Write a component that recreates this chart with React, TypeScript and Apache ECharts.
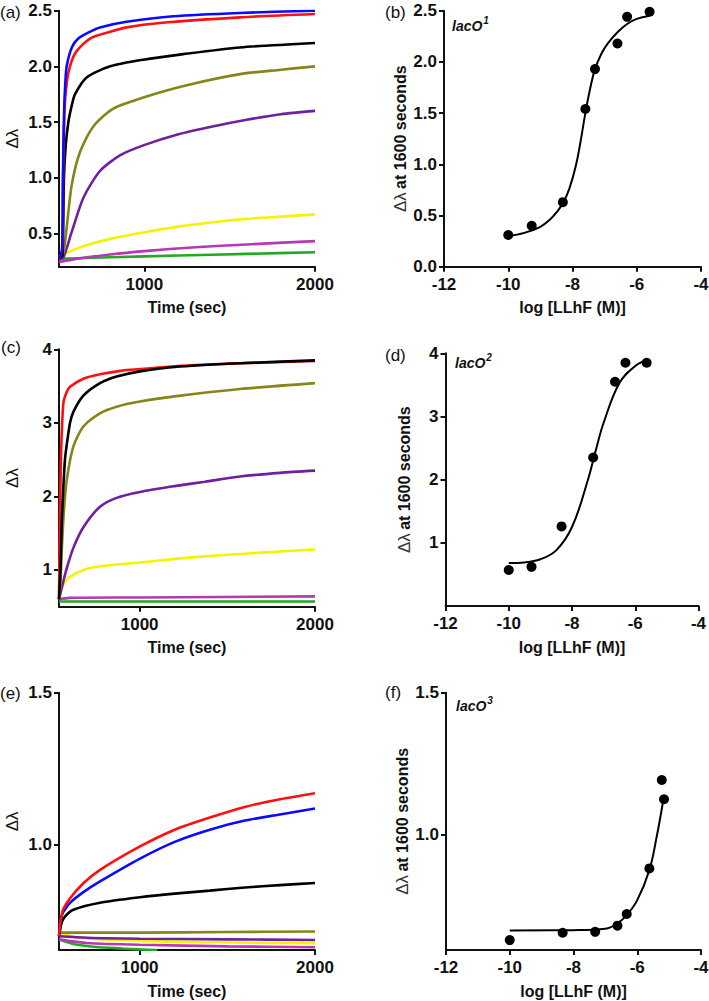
import React, { useEffect, useRef } from "react";
import * as echarts from "echarts";

// ---------- DATA ----------
// Panel (a) kinetics: [time (s), Δλ]
const aBlue = [[500,0.28],[518,0.35],[523,1.0],[530,1.6],[537,1.85],[545,2.0],[575,2.17],[613,2.25],[680,2.31],[740,2.35],[896,2.40],[1170,2.45],[1561,2.48],[2000,2.50]];
const aRed = [[500,0.28],[518,0.35],[524,1.0],[532,1.6],[545,1.85],[564,2.0],[600,2.13],[682,2.25],[800,2.31],[896,2.35],[1092,2.39],[1561,2.44],[2000,2.47]];
const aBlack = [[500,0.28],[520,0.3],[529,1.0],[540,1.3],[555,1.5],[575,1.65],[594,1.75],[662,1.9],[800,2.0],[994,2.06],[1228,2.11],[1561,2.17],[2000,2.21]];
const aOlive = [[500,0.28],[525,0.32],[545,0.55],[574,0.93],[623,1.23],[701,1.46],[818,1.62],[994,1.72],[1248,1.83],[1561,1.93],[1800,1.97],[2000,2.0]];
const aPurple = [[500,0.26],[525,0.28],[574,0.51],[643,0.82],[740,1.06],[857,1.2],[994,1.29],[1200,1.39],[1400,1.46],[1600,1.52],[1800,1.57],[2000,1.60]];
const aYellow = [[500,0.29],[525,0.31],[600,0.36],[700,0.41],[800,0.45],[1000,0.51],[1200,0.56],[1400,0.60],[1600,0.63],[1800,0.65],[2000,0.67]];
const aMagenta = [[500,0.24],[600,0.27],[800,0.31],[1000,0.34],[1300,0.375],[1600,0.40],[2000,0.43]];
const aGreen = [[500,0.27],[800,0.285],[1200,0.30],[1600,0.315],[2000,0.33]];

// Panel (c) kinetics
const cRed = [[540,0.6],[546,1.8],[552,2.6],[565,3.27],[584,3.42],[603,3.49],[679,3.6],[774,3.66],[900,3.71],[1002,3.73],[1200,3.77],[1572,3.81],[2000,3.84]];
const cBlack = [[540,0.6],[550,1.1],[555,1.6],[565,2.13],[574,2.5],[584,2.7],[603,3.0],[622,3.15],[679,3.37],[774,3.54],[869,3.63],[1002,3.70],[1200,3.76],[1572,3.81],[2000,3.85]];
const cOlive = [[540,0.6],[548,0.8],[555,1.23],[568,1.8],[584,2.22],[622,2.68],[679,2.95],[774,3.13],[869,3.22],[1002,3.29],[1200,3.36],[1572,3.46],[2000,3.54]];
const cPurple = [[540,0.6],[555,0.75],[584,1.02],[622,1.3],[679,1.58],[774,1.86],[869,1.98],[1002,2.06],[1200,2.14],[1373,2.2],[1572,2.27],[1800,2.32],[2000,2.35]];
const cYellow = [[540,0.6],[550,0.7],[565,0.8],[600,0.9],[680,1.0],[774,1.05],[1002,1.1],[1200,1.15],[1400,1.19],[1600,1.22],[1800,1.25],[2000,1.28]];
const cMagenta = [[540,0.6],[600,0.62],[1000,0.625],[2000,0.64]];
const cGreen = [[540,0.57],[1000,0.57],[2000,0.57]];

// Panel (e) kinetics
const eRed = [[540,0.70],[546,0.74],[555,0.77],[565,0.79],[603,0.825],[679,0.874],[774,0.918],[1002,0.995],[1200,1.05],[1400,1.09],[1600,1.125],[1800,1.15],[2000,1.17]];
const eBlue = [[540,0.70],[546,0.74],[555,0.765],[565,0.78],[603,0.81],[679,0.845],[774,0.88],[1002,0.955],[1200,1.01],[1400,1.05],[1600,1.08],[1800,1.10],[2000,1.12]];
const eBlack = [[540,0.70],[546,0.72],[555,0.745],[574,0.765],[622,0.787],[774,0.81],[1002,0.828],[1200,0.84],[1400,0.85],[1600,0.86],[1800,0.868],[2000,0.875]];
const eOlive = [[540,0.712],[1000,0.712],[1500,0.714],[2000,0.716]];
const ePurple = [[540,0.70],[700,0.695],[1000,0.692],[1500,0.69],[2000,0.688]];
const eYellow = [[540,0.716],[650,0.695],[1000,0.685],[1500,0.68],[2000,0.677]];
const eMagenta = [[540,0.69],[700,0.678],[1000,0.672],[1500,0.667],[2000,0.664]];
const eGreen = [[540,0.69],[620,0.675],[750,0.665],[900,0.66],[1000,0.657],[1100,0.655]];

// Dose-response panels: log[LLhF (M)] and Δλ at 1600 s
const bX = [-10,-9.27,-8.3,-7.6,-7.3,-6.6,-6.3,-5.6];
const bY = [0.31,0.40,0.63,1.54,1.93,2.18,2.44,2.49];
const bFitX = [-10,-9.5,-9,-8.7,-8.5,-8.3,-8.1,-7.9,-7.75,-7.6,-7.45,-7.3,-7.1,-6.9,-6.6,-6.3,-6.0,-5.6];
const bFitY = [0.30,0.33,0.39,0.46,0.53,0.62,0.76,0.98,1.22,1.50,1.74,1.93,2.08,2.18,2.29,2.37,2.42,2.45];

const dX = [-10,-9.28,-8.33,-7.33,-6.64,-6.31,-5.64];
const dY = [0.57,0.62,1.26,2.35,3.55,3.85,3.85];
const dFitX = [-10,-9.5,-9,-8.5,-8,-7.5,-7.25,-7,-6.5,-6,-5.6];
const dFitY = [0.68,0.69,0.74,0.88,1.25,1.99,2.46,2.9,3.53,3.8,3.9];

const fX = [-10,-8.34,-7.32,-6.62,-6.33,-5.62,-5.23,-5.16];
const fY = [0.627,0.653,0.656,0.678,0.719,0.88,1.192,1.124];
const fFitX = [-10,-8,-7,-6.62,-6.33,-6.0,-5.62,-5.39,-5.2];
const fFitY = [0.661,0.662,0.667,0.686,0.715,0.768,0.874,0.992,1.11];

// Tick labels
const timeTicks = [1000, 2000];
const logTicks = [-12, -10, -8, -6, -4];
const aTicks = [0.5, 1.0, 1.5, 2.0, 2.5];
const bTicks = [0, 0.5, 1.0, 1.5, 2.0, 2.5];
const cTicks = [1, 2, 3, 4];
const dTicks = [1, 2, 3, 4];
const eTicks = [1.0, 1.5];
const fTicks = [1.0, 1.5];

const panelLabels = ["(a)", "(b)", "(c)", "(d)", "(e)", "(f)"];
const operatorSup = ["1", "2", "3"];

// ---------- STYLE ----------
const FONT = '"Liberation Sans", Arial, Helvetica, sans-serif';
const INK = "#111111";
const COL = {
  blue: "#0a0aff",
  red: "#ff1010",
  black: "#000000",
  olive: "#85851a",
  purple: "#6f1fa0",
  yellow: "#f4f400",
  magenta: "#b638b6",
  green: "#22a822",
};

const zip = (xs: number[], ys: number[]) => xs.map((x, i) => [x, ys[i]]);

function valAxis(gridIndex: number, min: number, max: number, ticks: number[], dec: number, extra: any = {}) {
  return {
    type: "value",
    gridIndex,
    min,
    max,
    axisLine: { show: true, onZero: false, lineStyle: { color: INK, width: 2 } },
    axisTick: { show: true, length: 5, inside: false, customValues: ticks, lineStyle: { color: INK, width: 2 } },
    axisLabel: {
      customValues: ticks,
      formatter: (v: number) => Number(v).toFixed(dec),
      color: INK,
      fontFamily: FONT,
      fontWeight: "bold",
      fontSize: 17,
      margin: 7,
    },
    splitLine: { show: false },
    ...extra,
  };
}

const xName = (name: string) => ({
  name,
  nameLocation: "middle",
  nameGap: 33,
  nameTextStyle: { fontFamily: FONT, fontWeight: "bold", fontSize: 16, color: INK },
});

const yNameDL = {
  name: "Δλ",
  nameLocation: "middle",
  nameGap: 38,
  nameTextStyle: { fontFamily: FONT, fontWeight: "normal", fontSize: 17, color: INK },
};

const yNameLong = {
  name: "{n|Δλ} {b|at 1600 seconds}",
  nameLocation: "middle",
  nameGap: 33,
  nameTextStyle: {
    color: INK,
    rich: {
      n: { fontFamily: FONT, fontWeight: "normal", fontSize: 17, color: "#333" },
      b: { fontFamily: FONT, fontWeight: "bold", fontSize: 16, color: INK },
    },
  },
};

function kin(name: string, data: number[][], color: string, idx: number) {
  return {
    type: "line",
    name,
    xAxisIndex: idx,
    yAxisIndex: idx,
    data,
    showSymbol: false,
    smooth: 0.25,
    lineStyle: { color, width: 2.6 },
    itemStyle: { color },
    clip: true,
    z: 2,
  };
}

function dots(xs: number[], ys: number[], idx: number) {
  return {
    type: "scatter",
    xAxisIndex: idx,
    yAxisIndex: idx,
    data: zip(xs, ys),
    symbol: "circle",
    symbolSize: 10,
    itemStyle: { color: "#000", opacity: 1 },
    z: 4,
  };
}

function fit(xs: number[], ys: number[], idx: number) {
  return {
    type: "line",
    xAxisIndex: idx,
    yAxisIndex: idx,
    data: zip(xs, ys),
    showSymbol: false,
    smooth: 0.4,
    lineStyle: { color: "#000", width: 2 },
    z: 3,
  };
}

export default function App() {
  const ref = useRef<HTMLDivElement>(null);

  useEffect(() => {
    if (!ref.current) return;
    const chart = echarts.init(ref.current, null, { renderer: "svg" });

    const grid = [
      { left: 59, top: 10.7, width: 256, height: 256 },
      { left: 444, top: 10.7, width: 257, height: 256 },
      { left: 59, top: 349.3, width: 256, height: 257.4 },
      { left: 445.5, top: 353.3, width: 253, height: 252.7 },
      { left: 59, top: 692.7, width: 256, height: 257.3 },
      { left: 446, top: 692.7, width: 255, height: 257.3 },
    ].map((g) => ({ ...g, containLabel: false, outerBoundsMode: "none" }));

    const xAxis = [
      valAxis(0, 500, 2000, timeTicks, 0, xName("Time (sec)")),
      valAxis(1, -12, -4, logTicks, 0, xName("log [LLhF (M)]")),
      valAxis(2, 540, 2000, timeTicks, 0, xName("Time (sec)")),
      valAxis(3, -12, -4, logTicks, 0, xName("log [LLhF (M)]")),
      valAxis(4, 540, 2000, timeTicks, 0, xName("Time (sec)")),
      valAxis(5, -12, -4, logTicks, 0, xName("log [LLhF (M)]")),
    ].map((a: any) => ({ ...a, axisLabel: { ...a.axisLabel, margin: 9 } }));

    const yAxis = [
      valAxis(0, 0.2, 2.5, aTicks, 1, yNameDL),
      valAxis(1, 0, 2.5, bTicks, 1, yNameLong),
      valAxis(2, 0.5, 4, cTicks, 0, yNameDL),
      valAxis(3, 0, 4, dTicks, 0, yNameLong),
      valAxis(4, 0.655, 1.5, eTicks, 1, yNameDL),
      valAxis(5, 0.592, 1.5, fTicks, 1, yNameLong),
    ];

    const series: any[] = [
      kin("green", aGreen, COL.green, 0),
      kin("magenta", aMagenta, COL.magenta, 0),
      kin("yellow", aYellow, COL.yellow, 0),
      kin("purple", aPurple, COL.purple, 0),
      kin("olive", aOlive, COL.olive, 0),
      kin("black", aBlack, COL.black, 0),
      kin("red", aRed, COL.red, 0),
      kin("blue", aBlue, COL.blue, 0),

      kin("green", cGreen, COL.green, 2),
      kin("magenta", cMagenta, COL.magenta, 2),
      kin("yellow", cYellow, COL.yellow, 2),
      kin("purple", cPurple, COL.purple, 2),
      kin("olive", cOlive, COL.olive, 2),
      kin("red", cRed, COL.red, 2),
      kin("black", cBlack, COL.black, 2),

      kin("green", eGreen, COL.green, 4),
      kin("magenta", eMagenta, COL.magenta, 4),
      kin("yellow", eYellow, COL.yellow, 4),
      kin("purple", ePurple, COL.purple, 4),
      kin("olive", eOlive, COL.olive, 4),
      kin("black", eBlack, COL.black, 4),
      kin("blue", eBlue, COL.blue, 4),
      kin("red", eRed, COL.red, 4),

      fit(bFitX, bFitY, 1),
      dots(bX, bY, 1),
      fit(dFitX, dFitY, 3),
      dots(dX, dY, 3),
      fit(fFitX, fFitY, 5),
      dots(fX, fY, 5),
    ];

    const labelPos = [
      [0, 12],
      [385, 12],
      [1, 347],
      [385, 355],
      [0, 693],
      [385, 692],
    ];
    const opPos = [
      [452, 24],
      [455, 361],
      [456, 704],
    ];

    const graphic: any[] = [
      ...panelLabels.map((t, i) => ({
        type: "text",
        x: labelPos[i][0],
        y: labelPos[i][1],
        style: {
          text: t,
          fontFamily: FONT,
          fontSize: 17,
          fill: INK,
          verticalAlign: "middle",
        },
      })),
      ...operatorSup.map((s, i) => ({
        type: "text",
        x: opPos[i][0],
        y: opPos[i][1],
        style: {
          text: `{m|lacO}{s|${s}}`,
          verticalAlign: "middle",
          rich: {
            m: { fontFamily: FONT, fontSize: 14, fontWeight: "bold", fontStyle: "italic", fill: INK, lineHeight: 18, verticalAlign: "bottom" },
            s: { fontFamily: FONT, fontSize: 10, fontWeight: "bold", fontStyle: "italic", fill: INK, lineHeight: 18, verticalAlign: "top", padding: [0, 0, 6, 1] },
          },
        },
      })),
    ];

    chart.setOption({
      animation: false,
      backgroundColor: "#ffffff",
      grid,
      xAxis,
      yAxis,
      series,
      graphic,
    });

    return () => chart.dispose();
  }, []);

  return (
    <div
      ref={ref}
      style={{ position: "absolute", left: 0, top: 0, width: 709, height: 1001, background: "#fff" }}
    />
  );
}
